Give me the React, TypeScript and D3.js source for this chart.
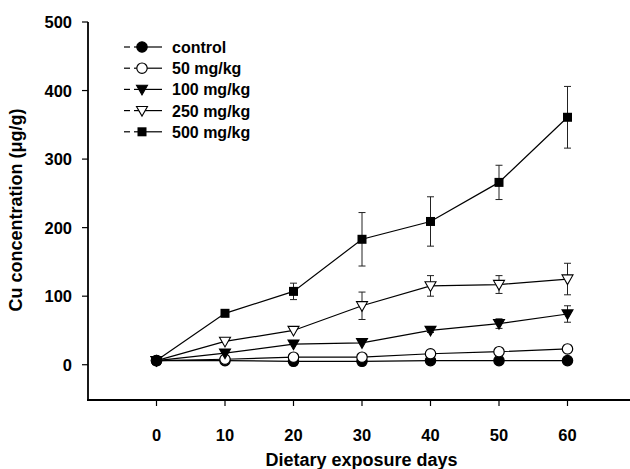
import React from "react";
import * as d3 from "d3";

const days = [0, 10, 20, 30, 40, 50, 60];
const xTicks = [0, 10, 20, 30, 40, 50, 60];
const yTicks = [0, 100, 200, 300, 400, 500];

const seriesNames = ["control", "50 mg/kg", "100 mg/kg", "250 mg/kg", "500 mg/kg"];
const seriesSymbols = ["circleFilled", "circleOpen", "triDownFilled", "triDownOpen", "squareFilled"];

const controlVals = [6, 6, 5, 5, 6, 6, 6];
const mg50Vals = [6, 8, 11, 11, 16, 19, 23];
const mg100Vals = [6, 17, 30, 32, 50, 60, 74];
const mg250Vals = [6, 34, 50, 86, 115, 117, 125];
const mg500Vals = [6, 75, 107, 183, 209, 266, 361];

const controlErr = [0, 0, 0, 0, 0, 0, 0];
const mg50Err = [0, 0, 0, 0, 0, 0, 0];
const mg100Err = [0, 0, 0, 0, 3, 7, 12];
const mg250Err = [0, 0, 0, 20, 15, 13, 23];
const mg500Err = [0, 0, 12, 39, 36, 25, 45];

const seriesVals = [controlVals, mg50Vals, mg100Vals, mg250Vals, mg500Vals];
const seriesErr = [controlErr, mg50Err, mg100Err, mg250Err, mg500Err];

const FONT = "'Liberation Sans', Arial, sans-serif";

function Marker({ kind, x, y }: { kind: string; x: number; y: number }) {
  if (kind === "circleFilled" || kind === "circleOpen") {
    return (
      <circle cx={x} cy={y} r={5.2} fill={kind === "circleFilled" ? "#000" : "#fff"} stroke="#000" strokeWidth={1.2} />
    );
  }
  if (kind === "squareFilled") {
    return <rect x={x - 4.5} y={y - 4.5} width={9} height={9} fill="#000" />;
  }
  const h = 5.5;
  const w = 5.5;
  const d = `M${x - w},${y - h * 0.75}L${x + w},${y - h * 0.75}L${x},${y + h}Z`;
  return <path d={d} fill={kind === "triDownFilled" ? "#000" : "#fff"} stroke="#000" strokeWidth={1.1} />;
}

export default function App() {
  const width = 630;
  const height = 469;
  const x = d3.scaleLinear().domain([-10, 70]).range([88, 636]);
  const y = d3.scaleLinear().domain([-50, 500]).range([399, 22]);
  const line = d3
    .line<number>()
    .x((_, i) => x(days[i]))
    .y((v) => y(v));

  return (
    <svg width={width} height={height} style={{ position: "absolute", left: 0, top: 0, background: "#fff" }}>
      {/* axes */}
      <line x1={88} y1={y(500)} x2={88} y2={400} stroke="#000" strokeWidth={1.8} />
      <line x1={87} y1={400} x2={630} y2={400} stroke="#000" strokeWidth={1.8} />
      {yTicks.map((t) => (
        <g key={"y" + t}>
          <line x1={82} x2={88} y1={y(t)} y2={y(t)} stroke="#000" strokeWidth={1.2} />
          <text x={72} y={y(t) + 6} textAnchor="end" fontFamily={FONT} fontWeight="bold" fontSize={16.5}>
            {t}
          </text>
        </g>
      ))}
      {xTicks.map((t) => (
        <g key={"x" + t}>
          <line x1={x(t)} x2={x(t)} y1={400} y2={406} stroke="#000" strokeWidth={1.2} />
          <text x={x(t)} y={441} textAnchor="middle" fontFamily={FONT} fontWeight="bold" fontSize={16.5}>
            {t}
          </text>
        </g>
      ))}
      <text x={361.5} y={466} textAnchor="middle" fontFamily={FONT} fontWeight="bold" fontSize={18}>
        Dietary exposure days
      </text>
      <text
        transform={`translate(22,${210}) rotate(-90)`}
        textAnchor="middle"
        fontFamily={FONT}
        fontWeight="bold"
        fontSize={18}
      >
        Cu concentration (μg/g)
      </text>

      {/* error bars */}
      {seriesVals.map((vals, si) =>
        vals.map((v, i) => {
          const e = seriesErr[si][i];
          if (!e) return null;
          const cx = x(days[i]);
          return (
            <g key={`e${si}-${i}`} stroke="#222" strokeWidth={1}>
              <line x1={cx} x2={cx} y1={y(v + e)} y2={y(v - e)} />
              <line x1={cx - 3.5} x2={cx + 3.5} y1={y(v + e)} y2={y(v + e)} />
              <line x1={cx - 3.5} x2={cx + 3.5} y1={y(v - e)} y2={y(v - e)} />
            </g>
          );
        })
      )}

      {/* lines */}
      {seriesVals.map((vals, si) => (
        <path key={"l" + si} d={line(vals) || ""} fill="none" stroke="#000" strokeWidth={1.2} />
      ))}

      {/* markers */}
      {seriesVals.map((vals, si) =>
        vals.map((v, i) => <Marker key={`m${si}-${i}`} kind={seriesSymbols[si]} x={x(days[i])} y={y(v)} />)
      )}

      {/* legend */}
      {seriesNames.map((name, i) => {
        const ly = 47 + i * 21.2;
        return (
          <g key={"lg" + i}>
            <line x1={124} x2={130} y1={ly} y2={ly} stroke="#000" strokeWidth={1.2} />
            <line x1={134} x2={162} y1={ly} y2={ly} stroke="#000" strokeWidth={1.2} />
            <Marker kind={seriesSymbols[i]} x={142} y={ly} />
            <text x={172} y={ly + 6} fontFamily={FONT} fontWeight="bold" fontSize={16}>
              {name}
            </text>
          </g>
        );
      })}
    </svg>
  );
}
